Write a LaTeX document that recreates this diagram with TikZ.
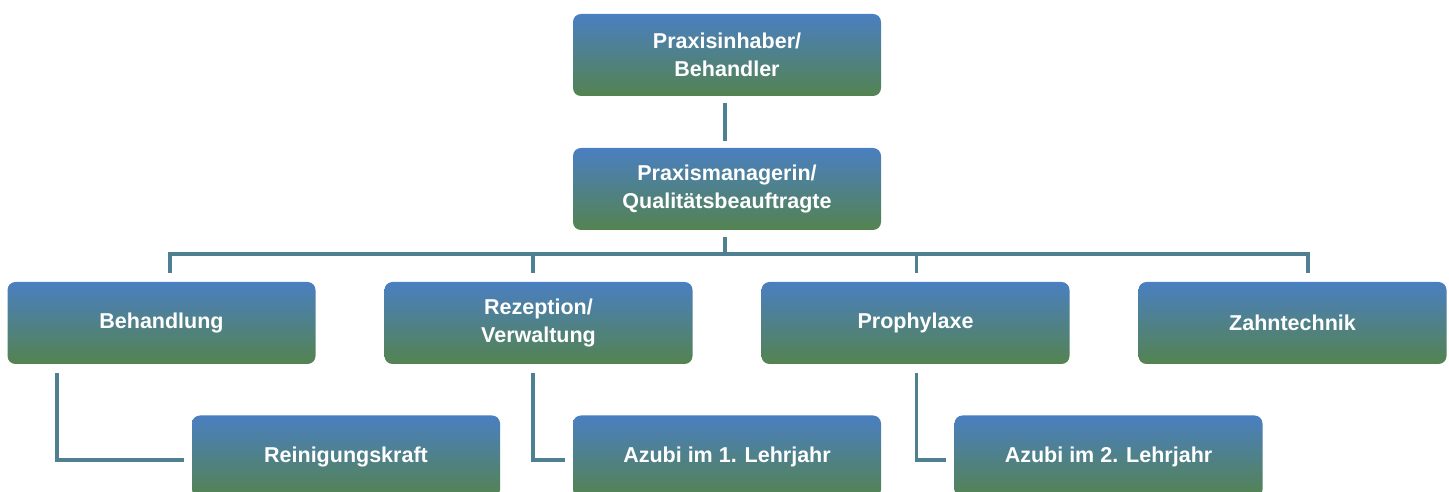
\documentclass[tikz,border=0pt]{standalone}
\usepackage{fontspec}
\setmainfont{Liberation Sans}
\definecolor{boxtop}{RGB}{74,127,193}
\definecolor{boxbot}{RGB}{84,131,80}
\definecolor{linecol}{RGB}{78,128,145}
\tikzset{
  orgbox/.style={rounded corners=8pt, minimum width=308pt, minimum height=82pt,
    top color=boxtop, bottom color=boxbot, draw=none, text=white,
    font=\fontsize{21.5}{27.5}\selectfont\bfseries, align=center, inner sep=0pt},
  conn/.style={draw=linecol, line width=3.5pt}
}
\begin{document}
\begin{tikzpicture}[x=1pt,y=1pt]
\useasboundingbox (0,0) rectangle (1449,492);
\clip (0,0) rectangle (1449,492);
\node[orgbox] (top) at (727,437) {Praxisinhaber/\\Behandler};
\node[orgbox] (pm) at (727,303) {Praxismanagerin/\\Qualitätsbeauftragte};
\node[orgbox] (beh) at (161.5,169) {Behandlung};
\node[orgbox] (rez) at (538.5,169) {Rezeption/\\Verwaltung};
\node[orgbox] (pro) at (915.5,169) {Prophylaxe};
\node[orgbox] (zahn) at (1292.5,169) {Zahntechnik};
\node[orgbox] (rein) at (346,35.5) {Reinigungskraft};
\node[orgbox] (az1) at (727,35.5) {Azubi im 1. Lehrjahr};
\node[orgbox] (az2) at (1108.5,35.5) {Azubi im 2. Lehrjahr};
% vertical top to pm
\draw[conn] ([xshift=-2pt,yshift=-7pt]top.south) -- ([xshift=-2pt,yshift=7pt]pm.north);
% pm to bar
\coordinate (bar) at (725,238);
\draw[conn] ([xshift=-2pt,yshift=-7pt]pm.south) -- (bar);
\draw[conn] ([xshift=8.5pt,yshift=9pt]beh.north) |- ([xshift=15.5pt,yshift=28pt]zahn.north) -- ([xshift=15.5pt,yshift=9pt]zahn.north);
\draw[conn] ([xshift=-5.5pt,yshift=9pt]rez.north) -- ([xshift=-5.5pt,yshift=28pt]rez.north);
\draw[conn] ([xshift=1pt,yshift=9pt]pro.north) -- ([xshift=1pt,yshift=28pt]pro.north);
% elbows
\draw[conn] ([xshift=-104.5pt,yshift=-9pt]beh.south) |- ([xshift=-8pt,yshift=-3.5pt]rein.west);
\draw[conn] ([xshift=-5.5pt,yshift=-9pt]rez.south) |- ([xshift=-8pt,yshift=-3.5pt]az1.west);
\draw[conn] ([xshift=1pt,yshift=-9pt]pro.south) |- ([xshift=-8pt,yshift=-3.5pt]az2.west);
\end{tikzpicture}
\end{document}
